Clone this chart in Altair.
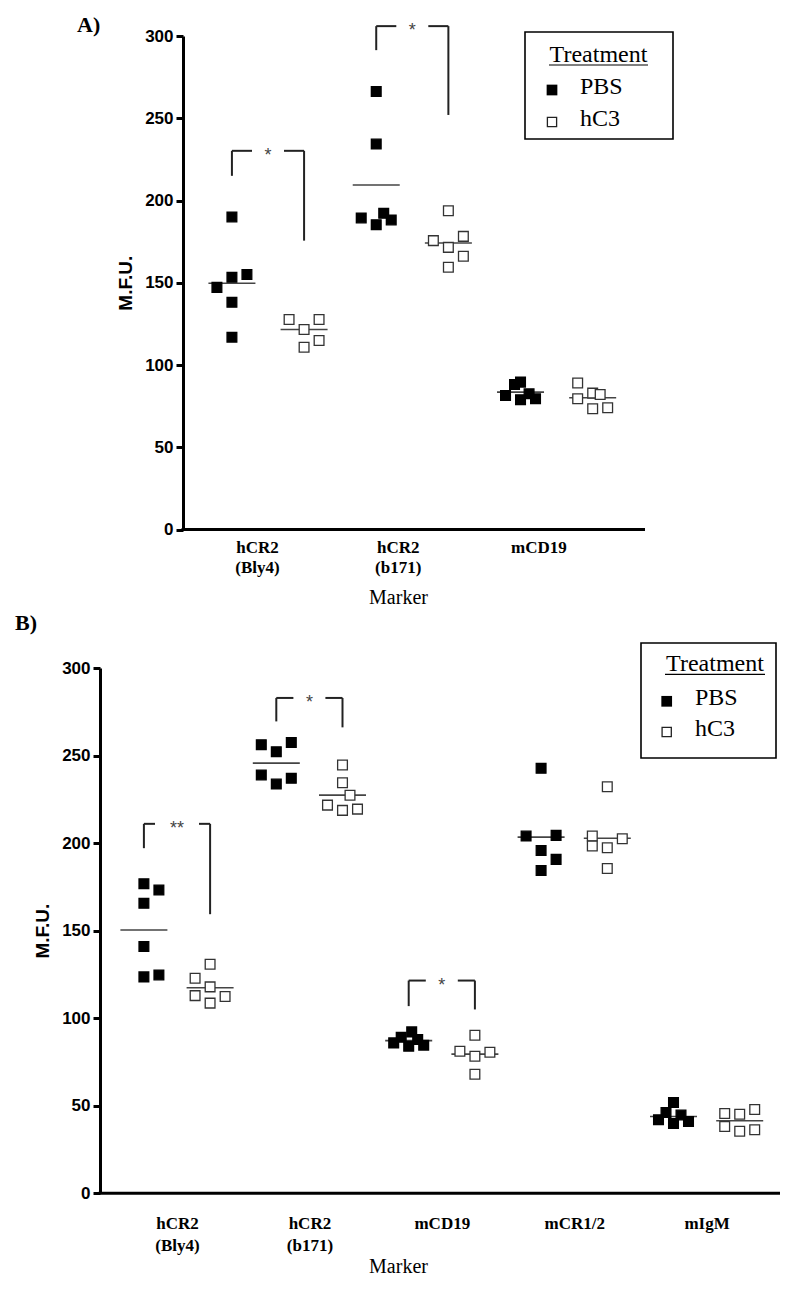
import altair as alt
import pandas as pd

# ---------------- Panel A values ----------------
A_MARKERS = ["hCR2 (Bly4)", "hCR2 (b171)", "mCD19"]
A_PBS = [[190.0, 153.3, 155.0, 147.2, 138.1, 116.9],
         [266.3, 234.3, 189.4, 185.3, 192.2, 188.2],
         [81.5, 88.2, 89.6, 78.9, 82.5, 79.5]]
A_PBS_SLOT = [[0, 0, 1, -1, 0, 0],
              [0, 0, -1, 0, 0.5, 1],
              [-1, -0.4, 0, 0, 0.57, 1]]
A_HC3 = [[127.6, 127.6, 121.6, 110.8, 114.9],
         [193.8, 175.6, 178.2, 171.5, 166.1, 159.4],
         [89.0, 79.5, 82.9, 82.1, 73.4, 74.0]]
A_HC3_SLOT = [[-1, 1, 0, 0, 1],
              [0, -1, 1, 0, 1, 0],
              [-1, -1, 0, 0.5, 0, 1]]
A_LINE_PBS = [149.7, 209.4, 83.5]
A_LINE_HC3 = [121.6, 174.2, 80.1]
A_SIG_GROUP = [0, 1]
A_SIG_TOP = [230.2, 306.0]
A_SIG_PBS_END = [215.0, 291.4]
A_SIG_HC3_END = [175.6, 252.0]
A_SIG_LABEL = ["*", "*"]

# ---------------- Panel B values ----------------
B_MARKERS = ["hCR2 (Bly4)", "hCR2 (b171)", "mCD19", "mCR1/2", "mIgM"]
B_PBS = [[176.8, 173.2, 165.6, 140.9, 123.6, 124.7],
         [256.2, 252.2, 257.5, 238.9, 233.7, 237.0],
         [85.9, 89.1, 92.2, 84.0, 87.8, 84.6],
         [242.7, 204.0, 204.4, 195.8, 190.7, 184.4],
         [51.9, 46.2, 42.0, 39.9, 44.7, 41.0]]
B_PBS_SLOT = [[0, 1, 0, 0, 0, 1],
              [-1, 0, 1, -1, 0, 1],
              [-1, -0.5, 0.2, 0, 0.6, 1],
              [0, -1, 1, 0, 1, 0],
              [0, -0.5, -1, 0, 0.5, 1]]
B_HC3 = [[130.8, 122.8, 117.9, 112.9, 112.4, 108.6],
         [244.6, 234.5, 227.3, 221.7, 218.7, 219.4],
         [90.3, 81.1, 78.3, 80.6, 68.0],
         [232.2, 204.0, 202.5, 198.3, 197.3, 185.5],
         [45.6, 45.2, 47.9, 38.2, 35.4, 36.3]]
B_HC3_SLOT = [[0, -1, 0, -1, 1, 0],
              [0, 0, 0.5, -1, 0, 1],
              [0, -1, 0, 1, 0],
              [0, -1, 1, -1, 0, 0],
              [-1, 0, 1, -1, 0, 1]]
B_LINE_PBS = [150.4, 245.7, 87.2, 203.4, 43.9]
B_LINE_HC3 = [117.4, 227.4, 79.5, 202.8, 41.4]
B_SIG_GROUP = [0, 1, 2]
B_SIG_TOP = [211.0, 282.9, 121.5]
B_SIG_PBS_END = [197.1, 269.5, 106.9]
B_SIG_HC3_END = [159.4, 266.1, 105.0]
B_SIG_LABEL = ["**", "*", "*"]

TREATMENTS = ["PBS", "hC3"]
Y_TICKS = [0, 50, 100, 150, 200, 250, 300]

SANS = "Liberation Sans"
SERIF = "Liberation Serif"


def panel(markers, pbs, pbs_slot, hc3, hc3_slot, line_pbs, line_hc3,
          sig_group, sig_top, sig_pbs_end, sig_hc3_end, sig_label, geo):
    W, H = geo["w"], geo["h"]
    lo, hi = geo["dom"]
    upx = (hi - lo) / W  # data units per pixel

    pts, means = [], []
    for g in range(len(markers)):
        for trt, vals, slots, sh, lv in (("PBS", pbs[g], pbs_slot[g], -0.25, line_pbs[g]),
                                         ("hC3", hc3[g], hc3_slot[g], 0.25, line_hc3[g])):
            for v, s in zip(vals, slots):
                pts.append(dict(treatment=trt, value=v, x=g + sh + s * 15 * upx))
            means.append(dict(x=g + sh - 23.5 * upx, x2=g + sh + 23.5 * upx, value=lv))
    pts = pd.DataFrame(pts)
    means = pd.DataFrame(means)

    segs, stars = [], []
    for g, top, el, er, lab in zip(sig_group, sig_top, sig_pbs_end, sig_hc3_end, sig_label):
        xl, xr, mid = g - 0.25, g + 0.25, float(g)
        gap = (10 + 6 * len(lab)) * upx
        segs += [dict(x=xl, x2=xl, value=el, value2=top),
                 dict(x=xr, x2=xr, value=er, value2=top),
                 dict(x=xl, x2=mid - gap, value=top, value2=top),
                 dict(x=mid + gap, x2=xr, value=top, value2=top)]
        stars.append(dict(x=mid, value=top, label=lab))
    segs = pd.DataFrame(segs)
    stars = pd.DataFrame(stars)

    names = "[" + ",".join("'" + m + "'" for m in markers) + "]"
    lab_pos = [geo["lab0"] + geo["labstep"] * g for g in range(len(markers))]
    x_enc = alt.X("x:Q", scale=alt.Scale(domain=[lo, hi], nice=False, zero=False),
                  axis=alt.Axis(values=lab_pos, ticks=False, grid=False, domain=False,
                                labelExpr="split(" + names + "[round(datum.value)], ' ')",
                                labelFont=SERIF, labelFontWeight="bold", labelFontSize=17,
                                labelColor="black", labelPadding=geo["xlabpad"],
                                labelLineHeight=geo["xlh"],
                                labelOverlap=False, labelFlush=False,
                                title="Marker", titleFont=SERIF, titleFontWeight="normal",
                                titleFontSize=20, titleColor="black", titlePadding=geo["xtitlepad"],
                                titleX=geo["titlex"], titleAlign="center"))
    y_enc = alt.Y("value:Q", scale=alt.Scale(domain=[0, 300], nice=False, zero=True),
                  axis=alt.Axis(values=Y_TICKS, grid=False, title="M.F.U.", offset=geo["yoff"],
                                labelFont=SANS, labelFontWeight="bold", labelFontSize=17,
                                labelColor="black", labelPadding=3,
                                tickSize=7, tickWidth=3, tickColor="black",
                                domainColor="black", domainWidth=3,
                                titleFont=SANS, titleFontWeight="bold", titleFontSize=19,
                                titleColor="black", titlePadding=9))

    one = pd.DataFrame({"k": [0]})
    xaxis_line = alt.Chart(one).mark_rule(color="black", strokeWidth=3).encode(
        x=alt.value(geo["xstart"] - 1.5), x2=alt.value(W), y=alt.value(H))

    mean_layer = alt.Chart(means).mark_rule(color="#444", strokeWidth=1.6).encode(
        x=x_enc, x2="x2:Q", y=y_enc)
    seg_layer = alt.Chart(segs).mark_rule(color="#222", strokeWidth=2).encode(
        x=x_enc, x2="x2:Q", y=y_enc, y2="value2:Q")
    star_layer = alt.Chart(stars).mark_text(font=SANS, fontSize=18, color="#444",
                                            baseline="middle", dy=5).encode(
        x=x_enc, y=y_enc, text="label:N")
    pt_layer = alt.Chart(pts).mark_point(shape="square", filled=True, size=95,
                                         strokeWidth=1.3, opacity=1).encode(
        x=x_enc, y=y_enc,
        fill=alt.Fill("treatment:N", scale=alt.Scale(domain=TREATMENTS, range=["black", "white"]),
                      legend=None),
        stroke=alt.Stroke("treatment:N", scale=alt.Scale(domain=TREATMENTS, range=["black", "#333"]),
                          legend=None))

    L = geo["leg"]
    leg = [
        alt.Chart(one).mark_rect(fill="white", stroke="black", strokeWidth=1.6).encode(
            x=alt.value(L["box"][0]), x2=alt.value(L["box"][1]),
            y=alt.value(L["box"][2]), y2=alt.value(L["box"][3])),
        alt.Chart(one).mark_text(text="Treatment", font=SERIF, fontSize=24, color="black",
                                 align="center", baseline="middle").encode(
            x=alt.value(L["title"][0]), y=alt.value(L["title"][1])),
        alt.Chart(one).mark_rule(color="black", strokeWidth=1.2).encode(
            x=alt.value(L["ul"][0]), x2=alt.value(L["ul"][1]), y=alt.value(L["ul"][2])),
        alt.Chart(one).mark_point(shape="square", filled=True, size=115, color="black",
                                  opacity=1).encode(
            x=alt.value(L["sym"]), y=alt.value(L["rows"][0])),
        alt.Chart(one).mark_point(shape="square", filled=True, size=85, fill="white",
                                  stroke="#222", strokeWidth=1.3, opacity=1).encode(
            x=alt.value(L["sym"]), y=alt.value(L["rows"][1])),
        alt.Chart(one).mark_text(text="PBS", font=SERIF, fontSize=24, color="black",
                                 align="left", baseline="middle").encode(
            x=alt.value(L["txt"]), y=alt.value(L["rows"][0] - 3)),
        alt.Chart(one).mark_text(text="hC3", font=SERIF, fontSize=24, color="black",
                                 align="left", baseline="middle").encode(
            x=alt.value(L["txt"]), y=alt.value(L["rows"][1] - 3)),
    ]
    tag = alt.Chart(one).mark_text(text=geo["tag"], font=SERIF, fontSize=22, fontWeight="bold",
                                   color="black", align="left", baseline="middle").encode(
        x=alt.value(geo["tagpos"][0]), y=alt.value(geo["tagpos"][1]))
    inv = alt.Chart(one).mark_rule(color="white", opacity=0, strokeWidth=1).encode(
        x=alt.value(geo["inv"][0]), x2=alt.value(geo["inv"][0] + 1),
        y=alt.value(geo["inv"][1]), y2=alt.value(geo["inv"][2]))

    return alt.layer(inv, xaxis_line, mean_layer, seg_layer, star_layer, pt_layer,
                     *leg, tag).properties(width=W, height=H)


# Panel A: plot frame starts at page x=100 (shared origin with B); its y axis is
# shifted right by 83 px to sit at page x=183.
A_SHIFT = 83
GEO_A = dict(w=545, h=493.5, dom=[(100 - 268) / 144.3, (100 - 268) / 144.3 + 545 / 144.3],
             yoff=-A_SHIFT, xstart=A_SHIFT, lab0=-0.076, labstep=0.975,
             xlabpad=10, xlh=20, xtitlepad=12, titlex=298,
             tag="A)", tagpos=[-23, -11],
             inv=[-87, -23, 493.5 + 80],
             leg=dict(box=[342 + A_SHIFT, 490 + A_SHIFT, -4, 103],
                      title=[415.5 + A_SHIFT, 19], ul=[366 + A_SHIFT, 465 + A_SHIFT, 29],
                      sym=369 + A_SHIFT, txt=397 + A_SHIFT, rows=[54, 86]))
GEO_B = dict(w=680, h=525.3, dom=[(100 - 177) / 132.4, (100 - 177) / 132.4 + 680 / 132.4],
             yoff=0, xstart=0, lab0=0.0, labstep=1.0,
             xlabpad=22, xlh=22, xtitlepad=3, titlex=298,
             tag="B)", tagpos=[-85, -45],
             inv=[-87, -57.2, 525.3 + 10],
             leg=dict(box=[541, 676, -25, 90], title=[615, -3.7], ul=[565, 665, 6.3],
                      sym=566.7, txt=595, rows=[33.3, 64]))

chart_a = panel(A_MARKERS, A_PBS, A_PBS_SLOT, A_HC3, A_HC3_SLOT, A_LINE_PBS, A_LINE_HC3,
                A_SIG_GROUP, A_SIG_TOP, A_SIG_PBS_END, A_SIG_HC3_END, A_SIG_LABEL, GEO_A)
chart_b = panel(B_MARKERS, B_PBS, B_PBS_SLOT, B_HC3, B_HC3_SLOT, B_LINE_PBS, B_LINE_HC3,
                B_SIG_GROUP, B_SIG_TOP, B_SIG_PBS_END, B_SIG_HC3_END, B_SIG_LABEL, GEO_B)

chart = alt.vconcat(chart_a, chart_b, spacing=0).properties(
    background="white").configure_view(strokeWidth=0)

chart.save("out.html", embed_options={"renderer": "svg", "actions": False})
